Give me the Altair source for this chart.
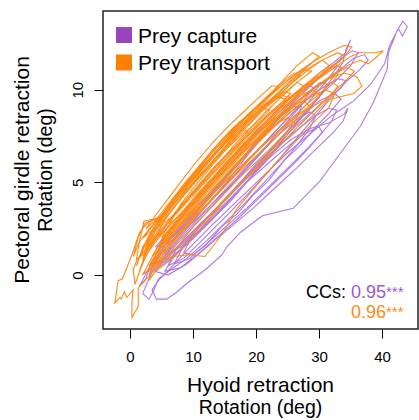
import altair as alt
import pandas as pd

# ---------------- data (degrees) ----------------
X_TICKS = [0, 10, 20, 30, 40]
Y_TICKS = [0, 5, 10]
GROUPS = ["Prey capture", "Prey transport"]
CC_VALUES = ["0.95", "0.96"]

CAPTURE_TRIALS = [
    [(3.5,-0.8),(4.2,-1.3),(5.8,-1.3),(7.5,-0.9),(9.2,-0.4),(12.0,0.3),(14.6,1.1),(15.3,1.5),(17.5,2.3),(21.0,3.2),(25.9,3.6),(30.2,5.1),(33.0,6.4),(36.5,8.0),(38.6,9.3),(40.8,11.1),(41.0,12.0),(42.4,13.2),(43.3,13.7),(44.0,13.4),(43.2,12.9),(42.6,13.3),(41.2,12.4),(40.4,11.4),(38.2,10.3),(35.5,9.4),(32.0,8.6),(28.5,7.6),(25.0,6.6),(21.0,5.3),(17.0,4.0),(13.0,2.7),(9.5,1.5),(6.5,0.4),(4.5,-0.3),(3.5,-0.8)],
    [(4.0,0.2),(6.0,0.0),(9.0,0.6),(12.5,1.6),(16.0,2.6),(19.5,3.6),(23.0,4.7),(26.5,5.8),(29.5,6.8),(32.0,7.6),(33.8,8.3),(34.6,9.0),(34.0,8.7),(31.5,8.2),(28.5,7.9),(25.5,7.3),(22.0,6.3),(18.5,5.2),(15.0,4.0),(11.5,2.9),(8.0,1.7),(5.5,0.9),(4.0,0.2)],
    [(5.0,0.8),(7.0,1.0),(10.0,2.0),(13.0,3.0),(16.0,4.0),(19.0,5.2),(22.0,6.3),(25.0,7.6),(28.0,8.8),(30.5,9.9),(32.5,10.8),(33.8,11.5),(34.3,12.2),(35.0,12.7),(34.2,12.0),(32.0,11.4),(30.0,10.9),(27.5,10.0),(24.5,8.8),(21.5,7.6),(18.5,6.4),(15.5,5.1),(12.5,3.9),(9.5,2.7),(7.0,1.7),(5.0,0.8)],
    [(6.0,0.5),(8.5,0.9),(11.5,1.9),(15.0,3.1),(18.5,4.3),(22.0,5.6),(25.5,7.0),(29.0,8.4),(32.0,9.6),(34.5,10.5),(36.5,11.1),(37.8,11.6),(37.2,11.9),(35.5,11.7),(33.0,11.0),(30.0,10.2),(27.0,9.1),(24.0,7.9),(20.5,6.5),(17.0,5.2),(13.5,3.9),(10.0,2.6),(7.5,1.5),(6.0,0.5)],
    [(3.0,0.0),(5.0,0.6),(8.0,1.6),(11.0,2.7),(14.0,3.7),(17.0,4.8),(20.0,5.9),(23.0,7.0),(26.0,8.1),(28.5,9.0),(30.5,9.8),(31.3,10.3),(30.2,10.4),(28.0,9.8),(25.0,8.9),(22.0,7.9),(19.0,6.8),(16.0,5.6),(13.0,4.4),(10.0,3.3),(7.0,2.2),(4.5,1.1),(3.0,0.0)],
    [(1.5,-0.6),(2.5,-0.2),(3.5,0.8),(5.0,1.5),(7.5,2.1),(10.5,3.0),(13.5,4.0),(16.5,5.0),(19.5,6.1),(22.5,7.2),(25.5,8.3),(28.5,9.4),(31.0,10.4),(33.0,11.3),(32.0,11.2),(29.5,10.5),(26.5,9.5),(23.5,8.4),(20.5,7.3),(17.5,6.1),(14.5,5.0),(11.5,3.9),(8.5,2.7),(5.5,1.6),(3.0,0.4),(1.5,-0.6)],
    [(5.5,0.2),(8.0,0.4),(11.0,1.2),(14.0,2.1),(17.0,3.0),(20.0,4.0),(23.0,5.0),(26.0,6.0),(28.5,6.9),(30.5,7.7),(30.0,8.0),(27.5,7.6),(24.5,6.8),(21.5,5.9),(18.5,5.0),(15.5,4.0),(12.5,3.0),(9.5,1.9),(7.0,1.0),(5.5,0.2)],
    [(4.5,0.4),(6.5,0.9),(9.5,1.8),(12.5,2.8),(15.5,3.9),(18.5,5.0),(21.5,6.2),(24.5,7.4),(27.5,8.6),(30.5,9.8),(33.0,10.6),(35.0,11.3),(36.2,12.0),(35.3,12.1),(33.5,11.7),(31.5,11.1),(29.0,10.4),(26.0,9.5),(23.0,8.4),(20.0,7.2),(17.0,6.0),(14.0,4.8),(11.0,3.6),(8.0,2.4),(6.0,1.4),(4.5,0.4)],
    [(2.0,-1.0),(3.0,-1.3),(3.8,-0.8),(4.5,-0.2),(6.5,0.3),(9.0,0.9),(12.0,1.8),(15.0,2.8),(18.0,3.8),(21.0,4.9),(24.0,6.0),(26.5,7.0),(28.5,7.9),(29.5,8.6),(28.5,8.8),(26.0,8.3),(23.0,7.4),(20.0,6.4),(17.0,5.3),(14.0,4.2),(11.0,3.1),(8.0,2.0),(5.5,1.0),(3.5,0.2),(2.0,-1.0)],
    [(6.0,1.2),(8.0,1.5),(10.5,2.4),(13.0,3.3),(15.5,4.2),(18.0,5.1),(20.5,6.0),(23.0,7.0),(25.0,7.8),(26.5,8.5),(27.2,9.1),(26.0,9.1),(24.0,8.6),(21.5,7.7),(19.0,6.8),(16.5,5.8),(14.0,4.8),(11.5,3.8),(9.0,2.8),(7.0,2.0),(6.0,1.2)],
    [(7.0,0.6),(9.5,0.9),(12.5,1.8),(15.5,2.7),(18.5,3.6),(21.5,4.6),(24.5,5.6),(27.5,6.6),(30.0,7.5),(32.0,8.3),(32.8,8.9),(31.5,9.0),(29.0,8.5),(26.0,7.7),(23.0,6.8),(20.0,5.8),(17.0,4.8),(14.0,3.7),(11.0,2.6),(8.5,1.6),(7.0,0.6)],
    [(3.8,0.6),(5.5,0.7),(8.0,1.4),(11.0,2.4),(14.0,3.4),(17.0,4.5),(20.0,5.6),(23.0,6.7),(26.0,7.8),(29.0,8.8),(31.5,9.6),(33.5,10.1),(34.2,10.5),(33.0,10.6),(30.5,10.1),(27.5,9.3),(24.5,8.3),(21.5,7.2),(18.5,6.1),(15.5,5.0),(12.5,3.9),(9.5,2.8),(6.5,1.8),(3.8,0.6)],
    [(4.0,1.5),(6.0,1.8),(8.5,2.6),(11.0,3.4),(13.5,4.3),(16.0,5.2),(18.5,6.1),(21.0,7.0),(23.5,7.9),(26.0,8.8),(28.0,9.6),(29.2,10.1),(28.0,10.3),(25.5,9.6),(23.0,8.8),(20.5,7.9),(18.0,7.0),(15.5,6.0),(13.0,5.1),(10.5,4.1),(8.0,3.1),(6.0,2.3),(4.0,1.5)],
    [(8.5,1.2),(10.0,1.1),(12.0,1.6),(14.5,2.6),(17.0,3.3),(19.5,4.3),(22.0,5.1),(24.5,6.2),(27.0,7.0),(29.5,8.0),(31.5,8.7),(33.5,9.5),(32.5,9.8),(30.0,9.4),(27.5,8.6),(25.0,7.8),(22.5,6.8),(20.0,6.0),(17.5,5.0),(15.0,4.1),(12.5,3.2),(10.0,2.2),(8.5,1.2)],
]

TRANSPORT_TRIALS = [
    [(2.9,-0.1),(1.3,-0.7),(1.3,-1.7),(0.3,-2.3),(0.3,-1.4),(0.5,-0.8),(-0.5,-1.2),(-0.9,-0.9),(-1.4,-1.3),(-1.6,-1.2),(-2.4,-1.5),(-1.9,-0.3),(-1.2,-0.2),(0.3,1.1),(1.2,2.0),(2.4,2.8),(5.1,3.1),(7.0,3.9),(9.5,4.8),(12.0,5.7),(15.0,6.8),(18.0,7.9),(21.0,8.9),(24.0,9.7),(26.5,10.4),(27.5,10.2),(25.5,9.3),(22.5,8.1),(19.5,6.9),(16.5,5.7),(13.5,4.5),(10.5,3.3),(7.5,2.1),(5.0,1.0),(2.9,-0.1)],
    [(3.0,0.5),(5.0,0.8),(7.0,1.0),(9.2,1.1),(11.9,1.0),(14.6,2.2),(17.0,3.6),(20.0,4.8),(23.0,6.0),(26.0,7.1),(29.0,8.2),(31.5,9.0),(32.5,9.8),(31.0,10.0),(28.5,9.6),(25.5,8.8),(22.5,7.9),(19.5,6.9),(16.5,5.9),(13.5,4.8),(10.5,3.7),(7.5,2.6),(5.0,1.6),(3.0,0.5)],
    [(1.0,0.8),(1.5,1.8),(2.2,2.9),(3.5,3.0),(5.0,3.1),(6.5,4.0),(8.5,4.9),(10.5,5.7),(13.0,6.7),(15.5,7.6),(18.0,8.4),(20.5,9.0),(22.5,9.5),(24.5,9.9),(25.5,9.8),(24.0,9.3),(21.5,8.5),(18.5,7.5),(15.5,6.4),(12.5,5.3),(9.5,4.2),(6.5,3.0),(4.0,1.9),(2.0,1.2),(1.0,0.8)],
    [(3.5,1.0),(5.5,1.7),(8.0,2.7),(11.0,3.8),(14.0,4.9),(17.0,6.0),(20.0,7.1),(23.0,8.1),(26.0,9.1),(29.0,10.0),(32.0,10.7),(34.5,11.3),(36.5,11.6),(37.8,11.4),(38.9,11.7),(40.2,12.1),(39.0,12.0),(37.6,12.0),(36.5,12.0),(35.0,11.8),(32.5,11.2),(30.0,10.6),(27.0,9.8),(24.0,8.9),(21.0,7.9),(18.0,6.9),(15.0,5.8),(12.0,4.7),(9.0,3.6),(6.0,2.4),(3.5,1.0)],
    [(4.5,1.5),(6.5,2.1),(9.0,3.0),(12.0,4.0),(15.0,5.0),(18.0,6.0),(21.0,7.0),(24.0,7.9),(27.0,8.7),(30.0,9.3),(33.0,9.6),(35.5,9.8),(36.8,10.2),(36.0,10.7),(34.0,10.9),(31.5,10.6),(28.5,9.9),(25.5,9.1),(22.5,8.2),(19.5,7.2),(16.5,6.2),(13.5,5.1),(10.5,4.0),(7.5,2.9),(4.5,1.5)],
    [(2.5,1.5),(4.5,2.2),(7.0,3.2),(10.0,4.3),(13.0,5.4),(16.0,6.5),(19.0,7.6),(22.0,8.6),(25.0,9.5),(28.0,10.3),(31.0,11.0),(33.5,11.6),(35.2,12.3),(34.0,12.4),(31.5,12.0),(29.0,11.5),(26.0,10.8),(23.0,9.9),(20.0,8.9),(17.0,7.9),(14.0,6.8),(11.0,5.6),(8.0,4.4),(5.0,3.0),(2.5,1.5)],
    [(2.0,2.0),(3.5,2.4),(6.0,3.5),(8.5,4.4),(11.0,5.4),(13.5,6.3),(16.0,7.3),(18.5,8.2),(21.0,9.0),(23.5,9.8),(26.0,10.6),(28.0,11.2),(30.0,11.8),(29.0,12.0),(26.5,11.3),(24.0,10.4),(21.5,9.5),(19.0,8.7),(16.5,7.8),(14.0,6.8),(11.5,5.9),(9.0,4.9),(6.5,3.9),(4.0,2.8),(2.0,2.0)],
    [(4.0,0.6),(6.0,1.0),(8.5,1.8),(11.5,2.8),(14.5,3.9),(17.5,4.9),(20.5,5.9),(23.5,6.9),(26.5,7.8),(29.0,8.6),(31.0,9.3),(33.0,10.2),(32.0,10.4),(29.5,9.9),(26.5,9.1),(23.5,8.2),(20.5,7.2),(17.5,6.2),(14.5,5.1),(11.5,4.0),(8.5,2.9),(6.0,1.9),(4.0,0.6)],
    [(1.5,0.2),(2.5,1.0),(4.0,1.9),(6.0,2.6),(8.5,3.5),(11.0,4.5),(13.5,5.4),(16.0,6.3),(18.5,7.2),(21.0,8.0),(23.0,8.7),(24.5,9.2),(25.3,9.6),(24.0,9.7),(21.5,9.2),(19.0,8.5),(16.5,7.6),(14.0,6.7),(11.5,5.7),(9.0,4.7),(6.5,3.6),(4.0,2.4),(2.5,1.2),(1.5,0.2)],
    [(3.0,0.2),(4.5,0.8),(6.5,1.6),(9.0,2.6),(11.5,3.5),(14.0,4.4),(16.5,5.3),(19.0,6.1),(21.5,6.9),(24.0,7.7),(26.5,8.4),(28.6,9.1),(27.5,9.4),(25.0,9.0),(22.5,8.3),(20.0,7.5),(17.5,6.6),(15.0,5.7),(12.5,4.8),(10.0,3.8),(7.5,2.8),(5.0,1.7),(3.0,0.2)],
    [(1.0,0.5),(2.0,1.5),(3.5,2.3),(5.5,3.0),(7.5,3.9),(10.0,4.9),(12.5,5.8),(15.0,6.7),(17.5,7.5),(20.0,8.2),(22.2,8.9),(21.0,9.0),(18.5,8.3),(16.0,7.5),(13.5,6.6),(11.0,5.7),(8.5,4.7),(6.0,3.6),(4.0,2.7),(2.5,1.8),(1.0,0.5)],
    [(3.0,1.3),(5.0,2.2),(7.5,3.1),(10.0,4.0),(12.5,5.0),(15.0,5.9),(17.5,6.9),(20.0,7.8),(22.5,8.6),(25.0,9.4),(27.5,10.1),(30.0,10.7),(31.6,11.3),(30.5,11.6),(28.0,11.1),(25.5,10.5),(23.0,9.7),(20.5,8.9),(18.0,8.0),(15.5,7.1),(13.0,6.1),(10.5,5.1),(8.0,4.1),(5.5,3.0),(3.0,1.3)],
    [(1.5,1.0),(3.0,1.6),(5.0,2.5),(7.0,3.3),(9.0,4.1),(11.0,4.9),(13.0,5.7),(15.0,6.4),(17.0,7.0),(19.0,7.6),(18.0,7.9),(16.0,7.4),(14.0,6.7),(12.0,6.0),(10.0,5.2),(8.0,4.4),(6.0,3.5),(4.0,2.6),(1.5,1.0)],
    [(5.0,2.0),(7.0,2.6),(9.5,3.6),(12.0,4.5),(14.5,5.5),(17.0,6.4),(19.5,7.4),(22.0,8.2),(24.5,9.1),(27.0,9.9),(29.5,10.5),(32.0,11.2),(34.0,11.8),(33.0,12.0),(30.5,11.6),(28.0,11.0),(25.5,10.3),(23.0,9.5),(20.5,8.7),(18.0,7.8),(15.5,6.9),(13.0,5.9),(10.5,4.9),(8.0,3.8),(5.0,2.0)],
    [(0.5,1.0),(1.5,2.3),(3.0,2.9),(5.0,3.2),(7.0,4.1),(9.5,5.0),(12.0,5.9),(14.5,6.9),(17.0,7.8),(19.5,8.6),(22.0,9.3),(24.5,10.0),(27.0,10.8),(26.0,10.9),(23.5,10.2),(21.0,9.4),(18.5,8.6),(16.0,7.7),(13.5,6.8),(11.0,5.8),(8.5,4.8),(6.0,3.8),(3.5,2.7),(1.5,1.8),(0.5,1.0)],
    [(2.0,0.0),(3.5,0.5),(5.5,1.4),(8.0,2.4),(10.5,3.4),(13.0,4.3),(15.5,5.2),(18.0,6.0),(20.5,6.8),(23.0,7.6),(25.5,8.3),(28.0,9.0),(30.2,9.7),(29.0,10.0),(26.5,9.6),(24.0,8.9),(21.5,8.1),(19.0,7.3),(16.5,6.4),(14.0,5.5),(11.5,4.5),(9.0,3.5),(6.5,2.5),(4.0,1.3),(2.0,0.0)],
    [(4.0,0.2),(6.0,0.7),(8.5,1.5),(11.5,2.6),(14.5,3.8),(17.5,4.9),(20.5,6.0),(23.5,7.1),(26.5,8.1),(29.5,9.0),(32.0,9.8),(34.0,10.4),(35.6,11.0),(34.5,11.2),(32.5,10.9),(30.0,10.3),(27.0,9.5),(24.0,8.6),(21.0,7.6),(18.0,6.6),(15.0,5.5),(12.0,4.4),(9.0,3.2),(6.5,2.0),(4.0,0.2)],
    [(2.5,2.5),(3.5,2.8),(5.0,3.1),(6.5,3.9),(8.5,4.8),(10.5,5.6),(12.5,6.5),(14.5,7.3),(16.5,8.0),(18.5,8.6),(20.5,9.2),(22.5,9.8),(23.6,10.2),(22.5,10.2),(20.5,9.6),(18.0,8.8),(15.5,8.0),(13.0,7.1),(10.5,6.1),(8.0,5.0),(6.0,4.1),(4.0,3.2),(2.5,2.5)],
    [(3.5,0.6),(5.5,1.4),(8.0,2.3),(10.5,3.2),(13.0,4.1),(15.5,5.0),(18.0,5.9),(20.5,6.8),(23.0,7.6),(25.5,8.4),(28.0,9.2),(30.5,9.9),(32.6,10.6),(33.5,11.2),(32.5,11.4),(30.0,10.9),(27.5,10.2),(25.0,9.4),(22.5,8.6),(20.0,7.8),(17.5,6.9),(15.0,6.0),(12.5,5.0),(10.0,4.0),(7.5,2.9),(5.0,1.8),(3.5,0.6)],
    [(3.0,-0.3),(4.0,0.2),(5.5,0.9),(7.5,1.7),(10.0,2.6),(12.5,3.5),(15.0,4.4),(17.5,5.3),(20.0,6.1),(22.5,6.9),(24.5,7.6),(26.2,8.2),(25.0,8.5),(22.5,8.0),(20.0,7.3),(17.5,6.5),(15.0,5.6),(12.5,4.7),(10.0,3.7),(7.5,2.7),(5.0,1.6),(3.0,-0.3)],
    [(0.8,-0.5),(0.5,0.3),(1.2,0.9),(2.5,1.2),(4.0,2.0),(6.0,2.8),(8.5,3.9),(11.0,4.8),(13.5,5.8),(16.0,6.7),(18.5,7.6),(21.0,8.4),(23.0,9.0),(24.8,9.5),(23.5,9.6),(21.0,9.0),(18.5,8.2),(16.0,7.3),(13.5,6.3),(11.0,5.3),(8.5,4.3),(6.0,3.2),(3.5,1.9),(1.8,0.5),(0.8,-0.5)],
    [(2.0,0.8),(3.0,1.9),(4.5,2.6),(6.5,3.1),(9.0,4.1),(11.5,5.1),(14.0,6.0),(16.5,7.0),(19.0,7.9),(21.5,8.8),(24.0,9.6),(26.5,10.4),(28.8,11.0),(27.5,11.1),(25.0,10.5),(22.5,9.8),(20.0,9.0),(17.5,8.2),(15.0,7.3),(12.5,6.4),(10.0,5.4),(7.5,4.3),(5.0,3.2),(3.0,2.1),(2.0,0.8)],
]

# ---------------- style ----------------
FONT = "Liberation Sans"
PURPLE_LINE = "#AE7AE2"
ORANGE_LINE = "#FF8A14"
PURPLE_KEY = "#9A45BE"
ORANGE_KEY = "#FF7F00"

def to_frame(trials, group):
    rows = []
    for t, pts in enumerate(trials):
        for i, (x, y) in enumerate(pts):
            rows.append({"group": group, "trial": f"{group}-{t}", "idx": i, "x": x, "y": y})
    return pd.DataFrame(rows)

cap_df = to_frame(CAPTURE_TRIALS, GROUPS[0])
tra_df = to_frame(TRANSPORT_TRIALS, GROUPS[1])

W, H = 315, 318
xscale = alt.Scale(domain=[-4.29, 45.7], nice=False, zero=False)
yscale = alt.Scale(domain=[-2.91, 14.25], nice=False, zero=False)

xaxis = alt.Axis(values=X_TICKS, title=None, labelPadding=11)
yaxis = alt.Axis(values=Y_TICKS, title=None, labelAngle=270, labelAlign="center",
                 labelBaseline="bottom", labelPadding=9)

def lines(df, color):
    return alt.Chart(df).mark_line(strokeWidth=1.1, color=color, clip=True).encode(
        x=alt.X("x:Q", scale=xscale, axis=xaxis),
        y=alt.Y("y:Q", scale=yscale, axis=yaxis),
        detail="trial:N",
        order="idx:Q",
    )

def txt(s, x, y, size, color="#000", align="center", angle=0):
    kw = dict(font=FONT, fontSize=size, color=color, align=align, baseline="alphabetic")
    if angle:
        kw["angle"] = angle
    return alt.Chart(pd.DataFrame({"t": [s]})).mark_text(**kw).encode(
        x=alt.value(x), y=alt.value(y), text="t:N")

def key(x, y, color):
    return alt.Chart(pd.DataFrame({"k": [0]})).mark_square(size=256, color=color, opacity=1).encode(
        x=alt.value(x), y=alt.value(y))

layers = [
    lines(cap_df, PURPLE_LINE),
    lines(tra_df, ORANGE_LINE),
    key(21, 24, PURPLE_KEY), key(21, 51.5, ORANGE_KEY),
    txt(GROUPS[0], 35, 32, 21, align="left"),
    txt(GROUPS[1], 35, 59, 21, align="left"),
    txt("CCs:", 243, 287, 18, align="right"),
    txt(CC_VALUES[0], 283, 287, 18, color="#A058CC", align="right"),
    txt("***", 283, 285.5, 15, color="#A058CC", align="left"),
    txt(CC_VALUES[1], 283, 307, 18, color=ORANGE_LINE, align="right"),
    txt("***", 283, 305.5, 15, color=ORANGE_LINE, align="left"),
    txt("Hyoid retraction", 157.5, 381, 21),
    txt("Rotation (deg)", 157.5, 403, 19.5),
    txt("Pectoral girdle retraction", -74, 159, 21, angle=270),
    txt("Rotation (deg)", -51, 159, 19.5, angle=270),
]

chart = alt.layer(*layers).properties(
    width=W, height=H,
    autosize=alt.AutoSizeParams(type="none"),
    padding={"left": 103, "top": 11, "right": 1, "bottom": 91},
).configure_view(
    stroke="#222", strokeWidth=1.5
).configure_axis(
    domain=False, grid=False, ticks=True, tickColor="#000", tickSize=9, tickWidth=1,
    labelFont=FONT, labelFontSize=15, labelColor="#000",
)

chart.save("out.html", embed_options={"renderer": "svg", "actions": False})
